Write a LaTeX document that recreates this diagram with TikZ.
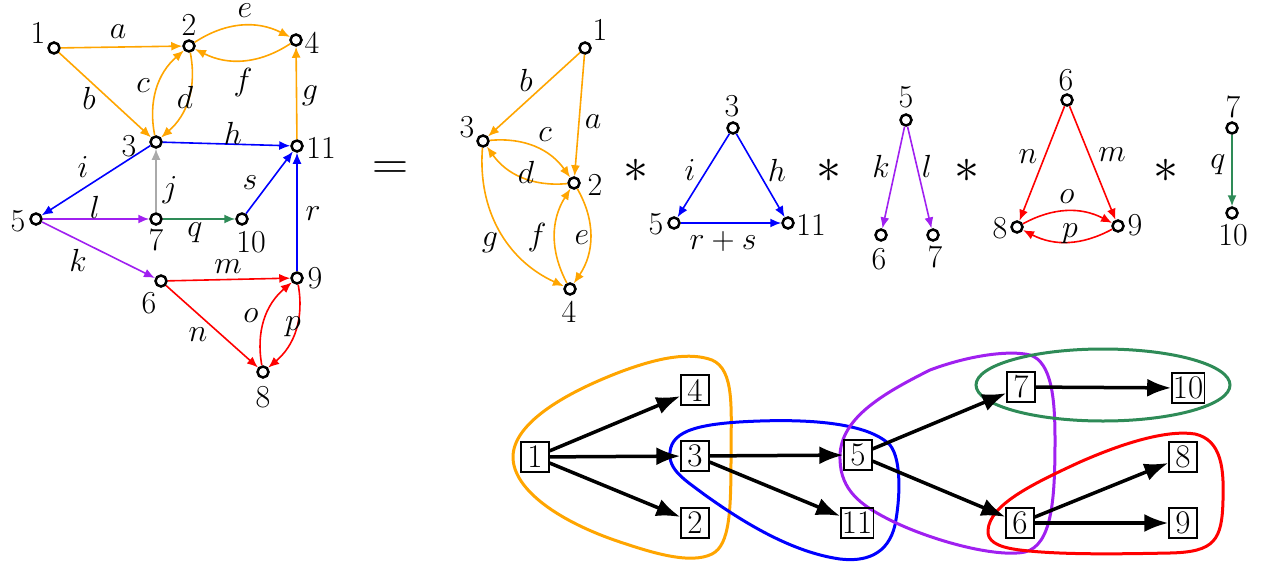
\RequirePackage{fix-cm}
\documentclass[tikz,border=0pt]{standalone}
\usetikzlibrary{arrows.meta}
\definecolor{corange}{HTML}{FFA500}
\definecolor{cblue}{HTML}{0000FF}
\definecolor{cpurple}{HTML}{A020F0}
\definecolor{cred}{HTML}{FF0000}
\definecolor{cgreen}{HTML}{2E8B57}
\definecolor{cgray}{HTML}{AAAAAA}
\tikzset{
  v/.style={circle,draw=black,line width=2.5pt,fill=white,minimum size=11pt,inner sep=0pt},
  txt/.style={inner sep=0pt,font=\fontsize{32}{38}\selectfont},
  op/.style={inner sep=0pt,font=\fontsize{50}{60}\selectfont},
  ed/.style={line width=1.6pt,-{Latex[length=11pt,width=9pt]}},
  oe/.style={ed,draw=corange},
  be/.style={ed,draw=cblue},
  pe/.style={ed,draw=cpurple},
  re/.style={ed,draw=cred},
  ge/.style={ed,draw=cgreen},
  ye/.style={ed,draw=cgray},
  bx/.style={draw=black,line width=1.3pt,inner sep=1pt,minimum width=28pt,minimum height=30pt,font=\fontsize{33}{38}\selectfont},
  ba/.style={line width=3.5pt,-{Latex[length=24pt,width=18pt]}},
  blob/.style={line width=3pt}
}
\begin{document}
\begin{tikzpicture}[x=1pt,y=-1pt]
\useasboundingbox (0,0) rectangle (1265,567);
% ---------- graph 1 ----------
\node[v] (a1) at (54,48) {};
\node[v] (a2) at (189,46) {};
\node[v] (a4) at (296,40) {};
\node[v] (a3) at (156,142) {};
\node[v] (a11) at (297,146) {};
\node[v] (a5) at (36,219) {};
\node[v] (a7) at (156,219) {};
\node[v] (a10) at (242,219) {};
\node[v] (a6) at (161,281) {};
\node[v] (a9) at (297,278) {};
\node[v] (a8) at (263,372) {};
\node[txt] (ta1) at (38,33) {1};
\node[txt] (ta2) at (189,25) {2};
\node[txt] (ta4) at (312,43) {4};
\node[txt] (ta3) at (129,146) {3};
\node[txt] (ta11) at (321,148) {11};
\node[txt] (ta5) at (18,221) {5};
\node[txt] (ta7) at (156,240) {7};
\node[txt] (ta10) at (251,242) {10};
\node[txt] (ta6) at (149,303) {6};
\node[txt] (ta9) at (315,278) {9};
\node[txt] (ta8) at (263,397) {8};
\draw[oe] (a1) -- (a2);
\draw[oe] (a1) -- (a3);
\draw[oe] (a3) to[bend left=30] (a2);
\draw[oe] (a2) to[bend left=30] (a3);
\draw[oe] (a2) to[bend left=30] (a4);
\draw[oe] (a4) to[bend left=30] (a2);
\draw[oe] (a11) -- (a4);
\draw[be] (a3) -- (a11);
\draw[be] (a3) -- (a5);
\draw[ye] (a7) -- (a3);
\draw[be] (a10) -- (a11);
\draw[be] (a9) -- (a11);
\draw[pe] (a5) -- (a7);
\draw[ge] (a7) -- (a10);
\draw[pe] (a5) -- (a6);
\draw[re] (a6) -- (a9);
\draw[re] (a6) -- (a8);
\draw[re] (a8) to[bend left=30] (a9);
\draw[re] (a9) to[bend left=30] (a8);
\node[txt] (la) at (118,32) {$a$};
\node[txt] (lb) at (89,98) {$b$};
\node[txt] (lc) at (143,86) {$c$};
\node[txt] (ld) at (185,97) {$d$};
\node[txt] (le) at (245,11) {$e$};
\node[txt] (lf) at (243,83) {$f$};
\node[txt] (lg) at (310,96) {$g$};
\node[txt] (lh) at (233,133) {$h$};
\node[txt] (li) at (83,167) {$i$};
\node[txt] (lj) at (170,190) {$j$};
\node[txt] (ls) at (250,183) {$s$};
\node[txt] (lr) at (313,214) {$r$};
\node[txt] (ll) at (95,207) {$l$};
\node[txt] (lq) at (195,233) {$q$};
\node[txt] (lk) at (78,260) {$k$};
\node[txt] (lm) at (228,267) {$m$};
\node[txt] (ln) at (198,335) {$n$};
\node[txt] (lo) at (251,316) {$o$};
\node[txt] (lp) at (293,327) {$p$};
% ---------- operators ----------
\node[op] (eq) at (390,171) {$=$};
\node[op] (st1) at (636,171) {$\ast$};
\node[op] (st2) at (829,171) {$\ast$};
\node[op] (st3) at (967,171) {$\ast$};
\node[op] (st4) at (1166,171) {$\ast$};
% ---------- graph 2 ----------
\node[v] (b1) at (585,48) {};
\node[v] (b3) at (483,141) {};
\node[v] (b2) at (574,183) {};
\node[v] (b4) at (570,289) {};
\node[txt] (tb1) at (600,30) {1};
\node[txt] (tb3) at (467,127) {3};
\node[txt] (tb2) at (595,185) {2};
\node[txt] (tb4) at (569,312) {4};
\draw[oe] (b1) -- (b3);
\draw[oe] (b1) -- (b2);
\draw[oe] (b3) to[bend left=30] (b2);
\draw[oe] (b2) to[bend left=30] (b3);
\draw[oe] (b3) to[bend right=35] (b4);
\draw[oe] (b4) to[bend left=30] (b2);
\draw[oe] (b2) to[bend left=32] (b4);
\node[txt] (mb) at (526,80) {$b$};
\node[txt] (ma) at (593,122) {$a$};
\node[txt] (mc) at (545,135) {$c$};
\node[txt] (md) at (526,172) {$d$};
\node[txt] (mg) at (490,243) {$g$};
\node[txt] (mf) at (537,237) {$f$};
\node[txt] (me) at (582,238) {$e$};
% ---------- graph 3 ----------
\node[v] (c3) at (733,128) {};
\node[v] (c5) at (674,223) {};
\node[v] (c11) at (788,223) {};
\node[txt] (tc3) at (732,106) {3};
\node[txt] (tc5) at (656,224) {5};
\node[txt] (tc11) at (811,225) {11};
\draw[be] (c3) -- (c5);
\draw[be] (c3) -- (c11);
\draw[be] (c5) -- (c11);
\node[txt] (ni) at (690,170) {$i$};
\node[txt] (nh) at (777,170) {$h$};
\node[txt] (nrs) at (723,241) {$r+s$};
% ---------- graph 4 ----------
\node[v] (d5) at (906,120) {};
\node[v] (d6) at (881,235) {};
\node[v] (d7) at (933,235) {};
\node[txt] (td5) at (906,97) {5};
\node[txt] (td6) at (879,259) {6};
\node[txt] (td7) at (935,257) {7};
\draw[pe] (d5) -- (d6);
\draw[pe] (d5) -- (d7);
\node[txt] (ok) at (881,166) {$k$};
\node[txt] (ol) at (927,166) {$l$};
% ---------- graph 5 ----------
\node[v] (e6) at (1067,100) {};
\node[v] (e8) at (1017,227) {};
\node[v] (e9) at (1118,226) {};
\node[txt] (te6) at (1066,80) {6};
\node[txt] (te8) at (1000,228) {8};
\node[txt] (te9) at (1135,225) {9};
\draw[re] (e6) -- (e8);
\draw[re] (e6) -- (e9);
\draw[re] (e8) to[bend left=28] (e9);
\draw[re] (e9) to[bend left=28] (e8);
\node[txt] (pn) at (1028,157) {$n$};
\node[txt] (pm) at (1112,155) {$m$};
\node[txt] (po) at (1067,197) {$o$};
\node[txt] (pp) at (1070,234) {$p$};
% ---------- graph 6 ----------
\node[v] (f7) at (1232,128) {};
\node[v] (f10) at (1232,213) {};
\node[txt] (tf7) at (1233,107) {7};
\node[txt] (tf10) at (1233,235) {10};
\draw[ge] (f7) -- (f10);
\node[txt] (qq) at (1218,165) {$q$};
% ---------- bottom graph ----------
\draw[blob,draw=corange] (513,457) .. controls (513,425) and (560,395) .. (620,372)
  .. controls (660,357) and (690,352) .. (712,360)
  .. controls (735,370) and (731,410) .. (731,455)
  .. controls (731,510) and (730,545) .. (712,554)
  .. controls (690,565) and (650,552) .. (620,542)
  .. controls (560,522) and (513,490) .. (513,457) -- cycle;
\draw[blob,draw=cblue] (670,452) .. controls (672,430) and (700,423) .. (760,421)
  .. controls (820,419) and (870,425) .. (890,445)
  .. controls (902,460) and (900,500) .. (895,525)
  .. controls (888,555) and (865,562) .. (840,559)
  .. controls (790,552) and (740,520) .. (705,495)
  .. controls (685,480) and (668,470) .. (670,452) -- cycle;
\draw[blob,draw=cpurple] (840,460) .. controls (838,420) and (880,395) .. (930,370)
  .. controls (970,355) and (1010,350) .. (1030,355)
  .. controls (1052,362) and (1055,400) .. (1055,440)
  .. controls (1055,500) and (1052,545) .. (1025,552)
  .. controls (995,558) and (930,540) .. (890,520)
  .. controls (860,505) and (841,490) .. (840,460) -- cycle;
\draw[blob,draw=cgreen] (1103,385) ellipse [x radius=127,y radius=36];
\draw[blob,draw=cred] (988,530) .. controls (990,505) and (1030,485) .. (1080,462)
  .. controls (1130,440) and (1170,430) .. (1195,434)
  .. controls (1222,440) and (1224,470) .. (1223,500)
  .. controls (1222,540) and (1215,552) .. (1170,553)
  .. controls (1120,554) and (1060,555) .. (1020,550)
  .. controls (995,547) and (987,540) .. (988,530) -- cycle;
\node[bx] (g1) at (535,457) {1};
\node[bx] (g4) at (695,390) {4};
\node[bx] (g3) at (695,456) {3};
\node[bx] (g2) at (695,523) {2};
\node[bx] (g5) at (858,455) {5};
\node[bx] (g11) at (857,523) {11};
\node[bx] (g7) at (1021,387) {7};
\node[bx] (g10) at (1188,388) {10};
\node[bx] (g8) at (1183,457) {8};
\node[bx] (g6) at (1020,523) {6};
\node[bx] (g9) at (1183,523) {9};
\draw[ba] (g1) -- (g4);
\draw[ba] (g1) -- (g3);
\draw[ba] (g1) -- (g2);
\draw[ba] (g3) -- (g5);
\draw[ba] (g3) -- (g11);
\draw[ba] (g5) -- (g7);
\draw[ba] (g5) -- (g6);
\draw[ba] (g7) -- (g10);
\draw[ba] (g6) -- (g8);
\draw[ba] (g6) -- (g9);
\end{tikzpicture}
\end{document}
